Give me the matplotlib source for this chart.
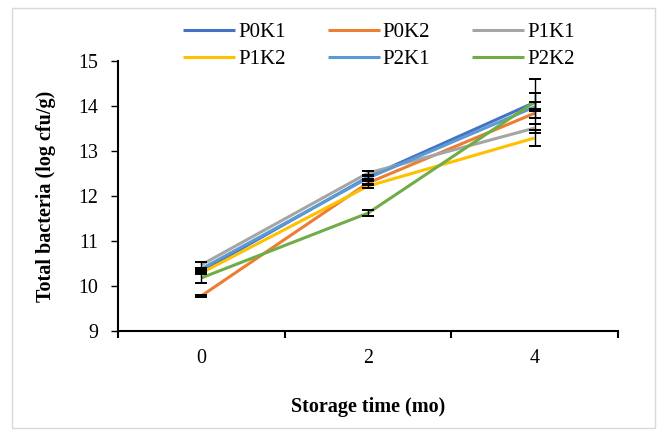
import matplotlib.pyplot as plt
import numpy as np
from matplotlib.patches import Rectangle

plt.rcParams["font.family"] = ["Liberation Serif", "DejaVu Serif"]

# --- Data ------------------------------------------------------------------
months = ["0", "2", "4"]
series = ["P0K1", "P0K2", "P1K1", "P1K2", "P2K1", "P2K2"]
p0k1 = [10.33, 12.42, 14.08]
p0k2 = [9.78, 12.29, 13.84]
p1k1 = [10.47, 12.51, 13.51]
p1k2 = [10.29, 12.22, 13.29]
p2k1 = [10.38, 12.40, 13.98]
p2k2 = [10.18, 11.62, 14.09]
err_p0k1 = [0.03, 0.04, 0.20]
err_p0k2 = [0.02, 0.04, 0.10]
err_p1k1 = [0.07, 0.05, 0.10]
err_p1k2 = [0.03, 0.04, 0.18]
err_p2k1 = [0.03, 0.04, 0.10]
err_p2k2 = [0.12, 0.06, 0.50]

values = [p0k1, p0k2, p1k1, p1k2, p2k1, p2k2]
errors = [err_p0k1, err_p0k2, err_p1k1, err_p1k2, err_p2k1, err_p2k2]
colors = ["#4472C4", "#ED7D31", "#A5A5A5", "#FFC000", "#5B9BD5", "#70AD47"]

fig = plt.figure(figsize=(6.67, 4.34), dpi=100)
fig.patch.set_facecolor("white")
ax = fig.add_axes([118 / 667, 1 - 331 / 434, 500 / 667, 270 / 434])

# light border round the chart area
fig.patches.append(Rectangle((12 / 667, 6 / 434), 643 / 667, 420 / 434,
                             transform=fig.transFigure, fill=False,
                             edgecolor="#D9D9D9", linewidth=1.0))

x = np.arange(len(months))
handles = []
for name, vals, errs, c in zip(series, values, errors, colors):
    h, = ax.plot(x, vals, color=c, lw=2.2, label=name, solid_capstyle="butt", zorder=2)
    handles.append(h)
    ax.errorbar(x, vals, yerr=errs, fmt="none", ecolor="black",
                elinewidth=1.0, capsize=4.5, capthick=1.4, zorder=3)

ax.set_xlim(-0.5, 2.5)
ax.set_ylim(9, 15)
ax.set_yticks(range(9, 16))
ax.set_xticks(x)
ax.set_xticklabels(months)
ax.set_xticks(np.arange(-0.5, 3.0, 1.0), minor=True)
ax.tick_params(axis="x", which="major", length=0, pad=13, labelsize=14.4)
ax.tick_params(axis="x", which="minor", length=5, width=1.5, direction="out")
ax.tick_params(axis="y", length=5, width=1.0, direction="out", labelsize=14.4, pad=9)

for s in ["top", "right"]:
    ax.spines[s].set_visible(False)
for s in ["left", "bottom"]:
    ax.spines[s].set_linewidth(1.5)

ax.set_xlabel("Storage time (mo)", fontsize=14.5, fontweight="bold", labelpad=21)
ax.set_ylabel("Total bacteria (log cfu/g)", fontsize=14.5, fontweight="bold", labelpad=16)

# legend filled row by row, as in the reference
order = [0, 3, 1, 4, 2, 5]
fig.legend([handles[i] for i in order], [series[i] for i in order],
           loc="center", bbox_to_anchor=(379 / 667, 1 - 46 / 434), ncol=3,
           frameon=False, fontsize=15, handlelength=2.5, handletextpad=0.15,
           columnspacing=2.0, labelspacing=0.35, borderaxespad=0)

plt.savefig("out.png", dpi=100, facecolor="white")
